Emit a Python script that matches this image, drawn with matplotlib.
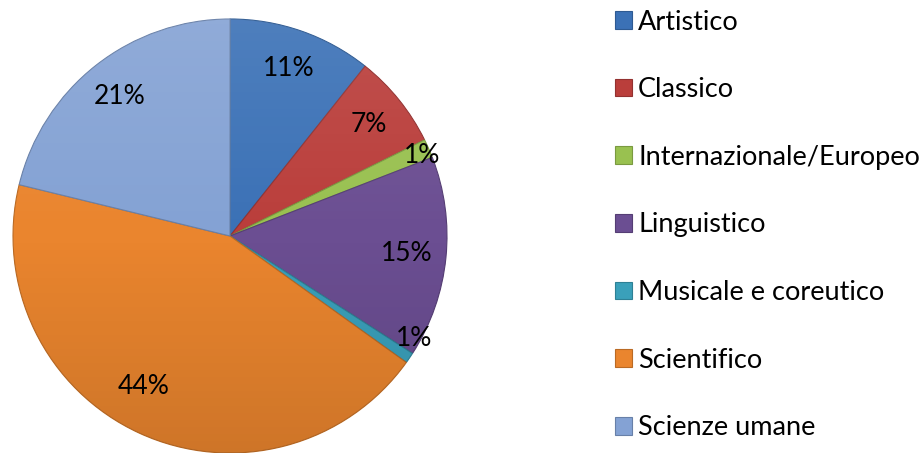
import matplotlib
matplotlib.use("Agg")
import matplotlib.pyplot as plt
from matplotlib.patches import Circle
import numpy as np

categories = ["Artistico", "Classico", "Internazionale/Europeo", "Linguistico",
              "Musicale e coreutico", "Scientifico", "Scienze umane"]
values = [10.7, 7.0, 1.4, 15.0, 0.8, 43.9, 21.2]
colors = ["#3B71B6", "#BA3E3B", "#99C150", "#6B4E92", "#3AA0BA", "#EA852E", "#84A2D4"]
edge_colors = ["#2E5A92", "#933130", "#7A9A40", "#553E74", "#2E8095", "#BA6A24", "#6880A8"]

plt.rcParams['font.family'] = ['Lato', 'DejaVu Sans']

W, H = 923, 453
fig = plt.figure(figsize=(W / 100, H / 100), dpi=100)
cx, cy, R = 230, 236, 217
ax = fig.add_axes([(cx - R) / W, (H - cy - R) / H, 2 * R / W, 2 * R / H])

wedges, texts, autotexts = ax.pie(
    values, colors=colors, startangle=90, counterclock=False,
    autopct='%.0f%%', pctdistance=0.82,
    wedgeprops=dict(linewidth=0.8),
    textprops=dict(fontsize=19, color='black', zorder=5))
for w, ec in zip(wedges, edge_colors):
    w.set_edgecolor(ec)

# label placement tweaks (radius, angle offset in degrees)
tweaks = {2: (0.96, -1.0), 4: (0.97, 5.0), 5: (0.80, -5.0)}
for i, (w, t) in enumerate(zip(wedges, autotexts)):
    if i in tweaks:
        r, off = tweaks[i]
        ang = np.deg2rad((w.theta1 + w.theta2) / 2 + off)
        t.set_position((r * np.cos(ang), r * np.sin(ang)))

# soft vertical shading over the pie (lighter at top, darker at bottom)
shade = np.zeros((256, 4, 4))
t_ = np.linspace(0, 1, 256)
shade[..., 0:3] = np.where(t_[:, None, None] < 0.5, 1.0, 0.0)
alpha = np.where(t_ < 0.5, 0.10 * (0.5 - t_) / 0.5, 0.12 * (t_ - 0.5) / 0.5)
shade[..., 3] = alpha[:, None]
im = ax.imshow(shade, extent=(-1, 1, -1, 1), aspect='auto', zorder=3,
               interpolation='bilinear')
clip = Circle((0, 0), 1.0, transform=ax.transData)
im.set_clip_path(clip)

ax.set_xlim(-1, 1)
ax.set_ylim(-1, 1)
ax.set_aspect('auto')
ax.axis('off')

leg = fig.legend(wedges, categories, loc='upper left',
                 bbox_to_anchor=(615 / W, 1 - 9.5 / H), frameon=False,
                 fontsize=19.5, handlelength=0.63, handleheight=0.63,
                 handletextpad=0.22, labelspacing=1.575, borderaxespad=0,
                 borderpad=0)

fig.savefig("out.png", dpi=100)
